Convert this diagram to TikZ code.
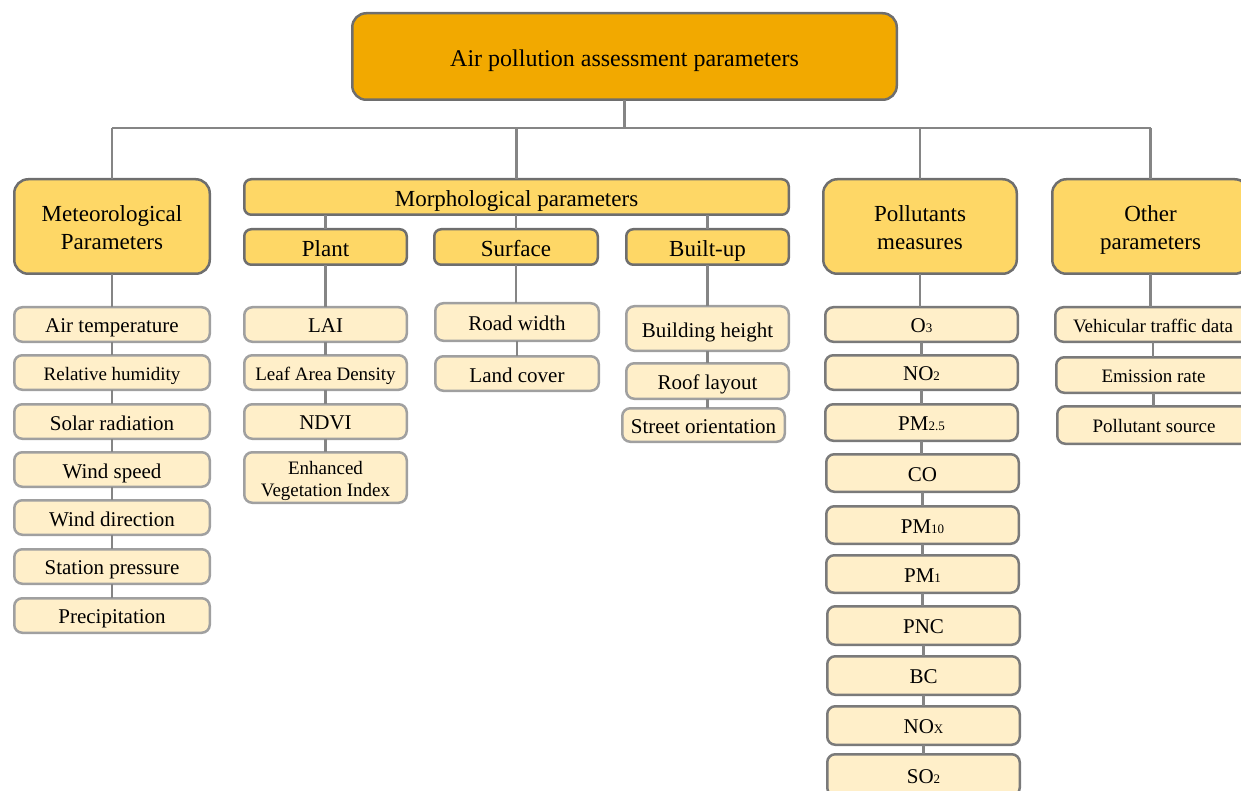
\documentclass[tikz,border=0pt]{standalone}
\usepackage{fontspec}
\setmainfont{Liberation Serif}
\definecolor{topc}{HTML}{F2A900}
\definecolor{parc}{HTML}{FED766}
\definecolor{leafc}{HTML}{FFEFC9}
\definecolor{pbord}{HTML}{6E6E6E}
\definecolor{lbord}{HTML}{A0A0A0}
\definecolor{dbord}{HTML}{7A7A7A}
\definecolor{connc}{HTML}{858585}
\newcommand\sbs[1]{{\fontsize{13}{13}\selectfont #1}}
\newcommand\placebox[7]{%
  \node[#2, minimum width={(#5-#3-2.5)*1pt}, minimum height={(#6-#4-2.5)*1pt}] (#1) at ({(#3+#5)/2},{(#4+#6)/2}) {};
  \node[#2, draw=none, fill=none, minimum width=0pt, minimum height=0pt, text depth=0.22em, yshift=-2.5pt] (#1-t) at (#1.center) {#7};}
\begin{document}
\begin{tikzpicture}[x=1pt,y=-1pt,
  base/.style={line width=2.5pt, align=center, inner sep=0pt, outer sep=0pt},
  topbox/.style={base, draw=pbord, fill=topc, rounded corners=14pt, font=\fontsize{24}{28}\selectfont},
  parbox/.style={base, draw=pbord, fill=parc, rounded corners=14pt, font=\fontsize{23}{28}\selectfont},
  parflat/.style={base, draw=pbord, fill=parc, rounded corners=7pt, font=\fontsize{23}{28}\selectfont},
  leafbox/.style={base, draw=lbord, fill=leafc, rounded corners=8pt, font=\fontsize{21}{24}\selectfont},
  leafdark/.style={leafbox, draw=dbord},
  small/.style={font=\fontsize{19}{22}\selectfont},
  conn/.style={draw=connc, line width=2.5pt}]
\useasboundingbox (0,0) rectangle (1241,791);
\clip (0,0) rectangle (1241,791);
% top and main categories
\placebox{top}{topbox}{351}{12}{898}{101}{Air pollution assessment parameters}
\placebox{met}{parbox}{13}{178}{211}{275}{Meteorological\\Parameters}
\placebox{mor}{parflat}{243}{178}{790}{216}{Morphological parameters}
\placebox{pla}{parflat}{243}{228}{408}{266}{Plant}
\placebox{sur}{parflat}{433}{228}{599}{266}{Surface}
\placebox{bui}{parflat}{625}{228}{790}{266}{Built-up}
\placebox{pol}{parbox}{822}{178}{1018}{275}{Pollutants\\measures}
\placebox{oth}{parbox}{1051}{178}{1250}{275}{Other\\parameters}
% meteorological leaves
\placebox{m1}{leafbox}{13}{306}{211}{343}{Air temperature}
\placebox{m2}{leafbox,small}{13}{354}{211}{391}{Relative humidity}
\placebox{m3}{leafbox}{13}{403}{211}{440}{Solar radiation}
\placebox{m4}{leafbox}{13}{451}{211}{488}{Wind speed}
\placebox{m5}{leafbox}{13}{499}{211}{536}{Wind direction}
\placebox{m6}{leafbox}{13}{548}{211}{585}{Station pressure}
\placebox{m7}{leafbox}{13}{597}{211}{634}{Precipitation}
% plant leaves
\placebox{p1}{leafbox}{243}{306}{408}{343}{LAI}
\placebox{p2}{leafbox,small}{243}{354}{408}{391}{Leaf Area Density}
\placebox{p3}{leafbox}{243}{403}{408}{440}{NDVI}
\placebox{p4}{leafbox,small}{243}{451}{408}{504}{Enhanced\\Vegetation Index}
% surface leaves
\placebox{s1}{leafbox}{434}{302}{600}{342}{Road width}
\placebox{s2}{leafbox}{434}{355}{600}{392}{Land cover}
% built-up leaves
\placebox{b1}{leafbox}{625}{305}{790}{352}{Building height}
\placebox{b2}{leafbox}{625}{362}{790}{400}{Roof layout}
\placebox{b3}{leafbox}{621}{407}{786}{443}{Street orientation}
% pollutant leaves
\placebox{q1}{leafdark}{824}{306}{1019}{343}{O\sbs{3}}
\placebox{q2}{leafdark}{824}{354}{1019}{391}{NO\sbs{2}}
\placebox{q3}{leafdark}{824}{403}{1019}{442}{PM\sbs{2.5}}
\placebox{q4}{leafdark}{825}{453}{1020}{493}{CO}
\placebox{q5}{leafdark}{825}{505}{1020}{545}{PM\sbs{10}}
\placebox{q6}{leafdark}{825}{554}{1020}{594}{PM\sbs{1}}
\placebox{q7}{leafdark}{826}{605}{1021}{646}{PNC}
\placebox{q8}{leafdark}{826}{655}{1021}{696}{BC}
\placebox{q9}{leafdark}{826}{705}{1021}{746}{NO\sbs{X}}
\placebox{q10}{leafdark}{826}{753}{1021}{797}{SO\sbs{2}}
% other leaves
\placebox{o1}{leafdark,small}{1054}{306}{1252}{343}{Vehicular traffic data}
\placebox{o2}{leafdark,small}{1055}{356}{1252}{394}{Emission rate}
\placebox{o3}{leafdark,small}{1056}{405}{1252}{445}{Pollutant source}
% connectors
\coordinate (bus) at (0,128);
\draw[conn] (top.south) -- (top.south |- bus);
\draw[conn] (met.north |- bus) -- (oth.north |- bus);
\foreach \n in {met,pol,oth} {\draw[conn] (\n.north |- bus) -- (\n.north);}
\draw[conn] (mor.north |- bus) -- (mor.north);
\foreach \n in {pla,sur,bui} {\draw[conn] (\n.north |- mor.south) -- (\n.north);}
\foreach \a/\b in {met/m1,pla/p1,sur/s1,bui/b1,pol/q1,oth/o1,
  m1/m2,m2/m3,m3/m4,m4/m5,m5/m6,m6/m7,p1/p2,p2/p3,p3/p4,s1/s2,b1/b2,b2/b3,
  q1/q2,q2/q3,q3/q4,q4/q5,q5/q6,q6/q7,q7/q8,q8/q9,q9/q10,o1/o2,o2/o3}
  {\draw[conn] (\a.south) -- (\a.south |- \b.north);}
\end{tikzpicture}
\end{document}
